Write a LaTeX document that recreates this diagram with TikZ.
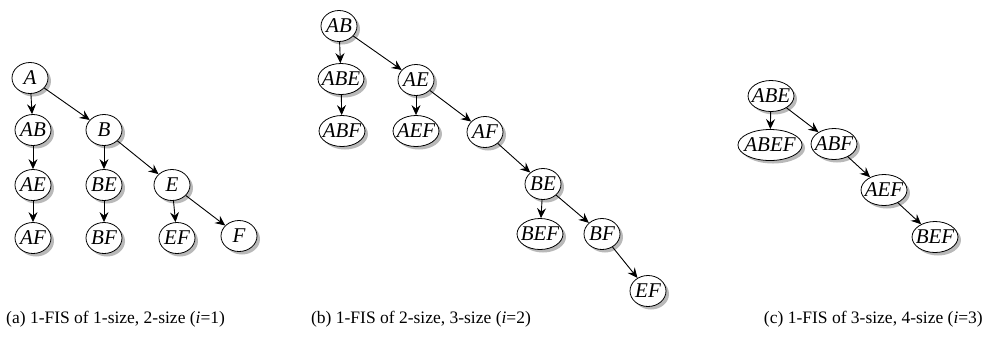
\documentclass[tikz,border=0pt]{standalone}
\usepackage{fontspec}
\setmainfont{Liberation Serif}
\usetikzlibrary{arrows.meta,
                shadows,
                shapes.geometric}

\begin{document}
\begin{tikzpicture}[x=1pt, y=-1pt,
set/.style = {ellipse, draw, line width=0.8pt, fill=white,
              inner xsep=-3pt, inner ysep=1pt,
              minimum width=36pt, minimum height=31pt,
              font=\fontsize{21}{21}\selectfont\itshape,
              drop shadow={shadow xshift=3pt, shadow yshift=-3pt,
                           fill=black!55}},
link/.style = {-{Stealth[length=10pt, width=9pt, inset=3.5pt]}, line width=0.9pt},
subcap/.style = {font=\fontsize{17.5}{18}\selectfont, inner sep=1pt}
                   ]
\useasboundingbox (0,0) rectangle (987,349);
% (a) i=1
\node[set] (aA)  at (30,78)   {A};
\node[set] (aAB) at (33,130)  {AB};
\node[set] (aB)  at (104,130) {B};
\node[set] (aAE) at (33,185)  {AE};
\node[set] (aBE) at (104,185) {BE};
\node[set] (aE)  at (172,185) {E};
\node[set] (aAF) at (33,238)  {AF};
\node[set] (aBF) at (104,238) {BF};
\node[set] (aEF) at (177,238) {EF};
\node[set] (aF)  at (239,236) {F};
\draw[link] (aA) -- (aAB);
\draw[link] (aAB) -- (aAE);
\draw[link] (aAE) -- (aAF);
\draw[link] (aA) -- (aB);
\draw[link] (aB) -- (aBE);
\draw[link] (aBE) -- (aBF);
\draw[link] (aB) -- (aE);
\draw[link] (aE) -- (aEF);
\draw[link] (aE) -- (aF);
% (b) i=2
\node[set] (bAB)  at (339,26)  {AB};
\node[set] (bABE) at (341,79)  {ABE};
\node[set] (bAE)  at (416,80)  {AE};
\node[set] (bABF) at (342,131) {ABF};
\node[set] (bAEF) at (416,131) {AEF};
\node[set] (bAF)  at (485,132) {AF};
\node[set] (bBE)  at (543,184) {BE};
\node[set] (bBEF) at (540,234) {BEF};
\node[set] (bBF)  at (602,234) {BF};
\node[set] (bEF)  at (648,291) {EF};
\draw[link] (bAB) -- (bABE);
\draw[link] (bABE) -- (bABF);
\draw[link] (bAB) -- (bAE);
\draw[link] (bAE) -- (bAEF);
\draw[link] (bAE) -- (bAF);
\draw[link] (bAF) -- (bBE);
\draw[link] (bBE) -- (bBEF);
\draw[link] (bBE) -- (bBF);
\draw[link] (bBF) -- (bEF);
% (c) i=3
\node[set] (cABE)  at (771,96)  {ABE};
\node[set] (cABEF) at (770,145) {ABEF};
\node[set] (cABF)  at (834,144) {ABF};
\node[set] (cAEF)  at (884,190) {AEF};
\node[set] (cBEF)  at (935,237) {BEF};
\draw[link] (cABE) -- (cABEF);
\draw[link] (cABE) -- (cABF);
\draw[link] (cABF) -- (cAEF);
\draw[link] (cAEF) -- (cBEF);
% captions
\node[subcap, anchor=west] (capa) at (5,319)   {(a) 1-FIS of 1-size, 2-size (\textit{i}=1)};
\node[subcap]              (capb) at (421,319) {(b) 1-FIS of 2-size, 3-size (\textit{i}=2)};
\node[subcap, anchor=east] (capc) at (984,319) {(c) 1-FIS of 3-size, 4-size (\textit{i}=3)};
\end{tikzpicture}
\end{document}
